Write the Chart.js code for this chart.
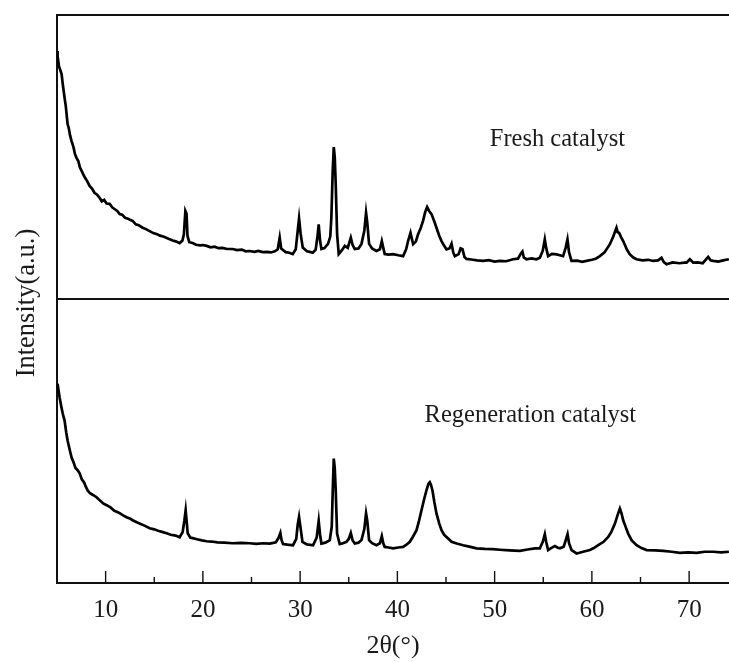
<!DOCTYPE html>
<html>
<head>
<meta charset="utf-8">
<title>XRD patterns</title>
<script src="https://cdn.jsdelivr.net/npm/chart.js@4.4.1/dist/chart.umd.min.js"></script>
<style>
  html, body { margin: 0; padding: 0; background: #fff; }
  #wrap { width: 729px; height: 662px; }
</style>
</head>
<body>
<div id="wrap"><canvas id="xrdChart" width="729" height="662"></canvas></div>
<script>
// 2theta ticks
const xTicks = [10, 20, 30, 40, 50, 60, 70];
const xMinorTicks = [15, 25, 35, 45, 55, 65];
const seriesNames = ["Fresh catalyst", "Regeneration catalyst"];

// fresh catalyst (upper panel, intensity in % of panel height)
const freshTheta = [5.0, 5.06, 5.2, 5.35, 5.47, 5.6, 5.78, 5.9, 6.09, 6.2, 6.35, 6.5, 6.7, 6.85, 7.02, 7.2, 7.35, 7.53, 7.7, 7.9,
  8.1, 8.35, 8.6, 8.85, 9.1, 9.38, 9.6, 9.85, 10.1, 10.41, 10.7, 10.95, 11.2, 11.44, 11.7, 12.0, 12.3, 12.5, 12.78, 13.1,
  13.4, 13.8, 14.1, 14.53, 14.9, 15.3, 15.6, 16.0, 16.28, 16.6, 16.9, 17.2, 17.61, 17.9, 18.05, 18.2, 18.32, 18.42, 18.6, 18.95,
  19.3, 19.7, 20.0, 20.39, 20.8, 21.2, 21.6, 22.0, 22.5, 23.07, 23.5, 24.0, 24.4, 24.81, 25.3, 25.7, 26.15, 26.6, 27.0, 27.4,
  27.7, 27.9, 28.05, 28.52, 28.9, 29.24, 29.55, 29.75, 29.89, 30.05, 30.27, 30.7, 31.0, 31.3, 31.6, 31.8, 31.91, 32.05, 32.19, 32.5,
  32.87, 33.1, 33.21, 33.35, 33.46, 33.56, 33.66, 33.8, 33.97, 34.3, 34.59, 34.9, 35.21, 35.4, 35.62, 36.0, 36.31, 36.6, 36.78, 36.9,
  37.09, 37.4, 37.85, 38.2, 38.4, 38.55, 38.7, 39.1, 39.56, 40.1, 40.59, 40.9, 41.1, 41.35, 41.62, 41.9, 42.13, 42.4, 42.64, 42.85,
  43.06, 43.3, 43.51, 43.8, 44.02, 44.3, 44.54, 44.8, 45.05, 45.35, 45.57, 45.75, 45.91, 46.3, 46.5, 46.7, 46.9, 47.11, 47.6, 48.2,
  48.82, 49.4, 50.0, 50.53, 51.2, 51.89, 52.4, 52.7, 52.86, 53.0, 53.27, 53.8, 54.3, 54.65, 54.95, 55.16, 55.3, 55.5, 55.9, 56.37,
  56.7, 57.04, 57.3, 57.49, 57.65, 57.9, 58.5, 59.0, 59.45, 60.0, 60.4, 60.82, 61.3, 61.85, 62.2, 62.53, 62.65, 62.8, 63.0, 63.22,
  63.6, 63.91, 64.3, 64.59, 65.2, 65.8, 66.3, 66.8, 67.16, 67.4, 67.68, 68.3, 69.0, 69.5, 69.74, 70.08, 70.42, 70.9, 71.4, 71.96,
  72.2, 72.48, 73.0, 73.5, 74.09];
const freshIntensity = [87.3, 85.6, 82.0, 80.5, 79.2, 75.5, 70.8, 68.0, 61.6, 60.3, 57.5, 55.6, 53.4, 51.0, 49.6, 48.5, 46.4, 45.1, 43.9, 42.6,
  41.5, 39.8, 38.9, 37.4, 36.8, 35.6, 34.4, 34.9, 33.6, 33.5, 32.2, 31.6, 31.0, 29.9, 29.7, 28.6, 28.3, 27.9, 27.5, 26.3,
  26.0, 25.1, 24.7, 23.9, 23.2, 22.8, 22.3, 21.9, 21.5, 21.0, 20.6, 20.3, 19.7, 20.6, 22.9, 31.0, 30.0, 22.2, 20.0, 19.7,
  19.1, 18.9, 19.0, 18.7, 18.2, 18.4, 17.9, 18.0, 17.6, 17.6, 17.2, 17.4, 16.8, 16.9, 16.6, 16.9, 16.5, 16.6, 16.4, 16.8,
  17.5, 21.6, 17.8, 16.5, 16.3, 15.8, 17.5, 24.0, 28.4, 23.0, 18.1, 16.8, 16.6, 16.3, 17.4, 22.5, 26.3, 20.5, 17.6, 17.9,
  19.4, 22.0, 28.6, 45.0, 53.5, 50.0, 40.5, 22.9, 15.8, 17.2, 18.7, 18.0, 21.6, 19.0, 17.6, 17.8, 19.4, 24.0, 30.4, 27.0,
  19.4, 17.8, 16.9, 17.5, 20.4, 18.0, 15.8, 15.6, 15.8, 15.4, 15.1, 17.5, 20.4, 23.3, 19.3, 20.2, 22.8, 25.0, 27.5, 30.5,
  32.4, 30.8, 29.9, 27.3, 25.1, 22.3, 20.4, 18.8, 17.5, 17.8, 19.5, 16.3, 15.1, 15.8, 17.8, 17.5, 14.8, 14.1, 13.9, 13.6,
  13.4, 13.7, 13.2, 13.4, 13.3, 14.0, 14.2, 16.0, 16.7, 14.6, 14.0, 14.3, 14.0, 14.5, 17.0, 21.0, 18.0, 15.1, 15.9, 15.7,
  15.4, 15.1, 18.0, 21.0, 16.5, 13.4, 13.5, 13.1, 13.4, 13.8, 14.2, 15.1, 16.4, 19.3, 22.0, 25.1, 23.5, 23.3, 21.8, 20.4,
  17.4, 15.7, 14.5, 14.0, 13.6, 13.8, 13.4, 13.6, 14.5, 13.0, 12.2, 12.9, 12.6, 12.8, 12.8, 14.0, 12.8, 12.9, 12.6, 14.8,
  13.6, 13.4, 13.2, 13.6, 14.0];

// regenerated catalyst (lower panel)
const regenTheta = [5.06, 5.15, 5.27, 5.45, 5.6, 5.78, 5.95, 6.09, 6.3, 6.5, 6.7, 6.9, 7.1, 7.33, 7.55, 7.8, 7.95, 8.15, 8.4, 8.7,
  9.07, 9.4, 9.75, 10.1, 10.5, 10.9, 11.2, 11.44, 11.8, 12.2, 12.5, 12.78, 13.2, 13.6, 14.0, 14.53, 15.0, 15.4, 15.8, 16.28,
  16.7, 17.2, 17.61, 17.92, 18.1, 18.23, 18.35, 18.44, 18.7, 18.95, 19.4, 19.9, 20.39, 20.9, 21.5, 22.2, 23.07, 23.9, 24.81, 25.5,
  26.2, 26.87, 27.5, 27.8, 27.97, 28.1, 28.24, 28.7, 29.27, 29.6, 29.75, 29.89, 30.02, 30.24, 30.7, 31.33, 31.7, 31.91, 32.05, 32.19,
  32.6, 33.05, 33.25, 33.35, 33.46, 33.56, 33.66, 33.8, 34.07, 34.4, 34.76, 35.0, 35.21, 35.4, 35.62, 36.0, 36.31, 36.6, 36.78, 36.9,
  37.09, 37.4, 37.85, 38.2, 38.4, 38.55, 38.7, 39.1, 39.56, 40.1, 40.59, 40.9, 41.28, 41.6, 41.97, 42.2, 42.48, 42.75, 42.99, 43.2,
  43.33, 43.45, 43.61, 43.8, 44.02, 44.3, 44.54, 44.8, 45.05, 45.3, 45.57, 46.1, 46.76, 47.4, 48.14, 49.0, 49.8, 50.53, 51.5, 52.59,
  53.4, 54.14, 54.65, 54.95, 55.16, 55.3, 55.5, 55.8, 56.19, 56.5, 56.71, 57.1, 57.35, 57.5, 57.65, 57.91, 58.43, 59.1, 59.79, 60.2,
  60.65, 61.2, 61.68, 62.0, 62.37, 62.65, 62.88, 63.05, 63.22, 63.5, 63.73, 64.1, 64.6, 65.1, 65.63, 66.5, 67.34, 68.2, 69.05, 69.9,
  70.77, 71.6, 72.48, 73.3, 74.09];
const regenIntensity = [70.2, 68.0, 65.3, 62.0, 59.5, 57.2, 53.0, 50.2, 47.0, 44.2, 42.5, 40.5, 39.8, 38.6, 36.5, 35.3, 34.0, 32.6, 31.6, 31.0,
  30.2, 29.1, 28.0, 27.4, 26.6, 25.4, 25.0, 24.6, 23.8, 23.1, 22.7, 22.1, 21.4, 20.8, 20.2, 19.3, 18.9, 18.4, 18.0, 17.5,
  17.0, 16.7, 16.1, 17.9, 22.0, 25.6, 21.0, 17.5, 16.0, 15.8, 15.4, 15.0, 14.7, 14.6, 14.3, 14.2, 14.0, 14.1, 14.0, 13.8,
  14.0, 13.9, 14.3, 16.0, 17.6, 15.0, 13.7, 13.5, 13.3, 15.5, 20.5, 23.3, 20.0, 14.5, 13.6, 13.3, 16.0, 21.9, 17.0, 13.9,
  14.2, 15.1, 19.8, 32.0, 43.8, 40.5, 32.6, 17.4, 13.7, 14.0, 14.5, 15.5, 17.6, 15.0, 13.9, 14.2, 15.1, 19.0, 24.5, 22.0,
  15.1, 14.0, 13.3, 14.0, 16.5, 14.0, 12.7, 12.5, 12.2, 12.5, 12.7, 13.4, 14.5, 16.3, 18.6, 21.5, 25.6, 29.5, 32.6, 35.0,
  35.5, 34.6, 32.6, 28.5, 24.5, 21.0, 18.6, 17.0, 16.2, 15.4, 14.5, 13.9, 13.3, 12.8, 12.2, 12.0, 11.9, 11.7, 11.5, 11.3,
  11.8, 12.2, 12.2, 14.5, 17.2, 14.5, 11.6, 12.3, 13.0, 12.4, 12.2, 12.8, 15.5, 17.2, 14.0, 11.6, 10.4, 11.0, 11.6, 12.3,
  13.3, 14.5, 16.2, 18.0, 20.9, 24.0, 26.2, 24.5, 22.1, 19.5, 17.4, 15.0, 13.3, 12.3, 11.6, 11.5, 11.3, 11.0, 10.6, 10.8,
  10.6, 11.0, 11.0, 10.8, 11.0];

function toPoints(xs, ys) {
  return xs.map((x, i) => ({ x: x, y: ys[i] }));
}

const serif = "'Liberation Serif', 'Times New Roman', serif";
const inkColor = "#1a1a1a";

// frame, inward ticks, panel labels, y title
const decorPlugin = {
  id: "decor",
  afterDraw(chart) {
    const { ctx, chartArea } = chart;
    const xs = chart.scales.x;
    const yTop = chart.scales.yTop;
    const yBot = chart.scales.yBot;
    ctx.save();
    ctx.strokeStyle = "#111";
    ctx.lineWidth = 2;
    ctx.beginPath();
    ctx.moveTo(chartArea.left - 1, chartArea.top);
    ctx.lineTo(chartArea.right, chartArea.top);
    ctx.moveTo(chartArea.left, yTop.bottom);
    ctx.lineTo(chartArea.right, yTop.bottom);
    ctx.stroke();

    ctx.lineWidth = 1.4;
    ctx.beginPath();
    xTicks.forEach(v => {
      const px = xs.getPixelForValue(v);
      ctx.moveTo(px, chartArea.bottom);
      ctx.lineTo(px, chartArea.bottom - 12);
    });
    xMinorTicks.forEach(v => {
      const px = xs.getPixelForValue(v);
      ctx.moveTo(px, chartArea.bottom);
      ctx.lineTo(px, chartArea.bottom - 6);
    });
    ctx.stroke();

    ctx.fillStyle = inkColor;
    ctx.font = "24.5px " + serif;
    ctx.textBaseline = "alphabetic";
    ctx.textAlign = "left";
    ctx.fillText(seriesNames[0], xs.getPixelForValue(49.5), yTop.getPixelForValue(53.9));
    ctx.fillText(seriesNames[1], xs.getPixelForValue(42.8), yBot.getPixelForValue(56.7));

    ctx.font = "26.5px " + serif;
    ctx.translate(27, (chartArea.top + chartArea.bottom) / 2 + 4);
    ctx.rotate(-Math.PI / 2);
    ctx.textAlign = "center";
    ctx.textBaseline = "middle";
    ctx.fillText("Intensity(a.u.)", 0, 0);
    ctx.restore();
  }
};

const panelAxis = {
  type: "linear",
  position: "left",
  stack: "xrd",
  stackWeight: 1,
  min: 0,
  max: 100,
  ticks: { display: false },
  grid: { display: false, drawTicks: false },
  border: { display: true, color: "#111", width: 2 },
  afterFit: s => { s.width = 57; }
};

new Chart(document.getElementById("xrdChart"), {
  type: "line",
  data: {
    datasets: [
      {
        label: seriesNames[1],
        data: toPoints(regenTheta, regenIntensity),
        yAxisID: "yBot",
        borderColor: "#000",
        borderWidth: 2.7,
        pointRadius: 0,
        tension: 0,
        fill: false
      },
      {
        label: seriesNames[0],
        data: toPoints(freshTheta, freshIntensity),
        yAxisID: "yTop",
        borderColor: "#000",
        borderWidth: 2.7,
        pointRadius: 0,
        tension: 0,
        fill: false
      }
    ]
  },
  options: {
    responsive: false,
    animation: false,
    layout: { padding: { top: 15, right: 0, left: 0, bottom: 0 } },
    plugins: {
      legend: { display: false },
      tooltip: { enabled: false }
    },
    scales: {
      x: {
        type: "linear",
        min: 5,
        max: 74.1,
        afterBuildTicks: s => { s.ticks = xTicks.map(v => ({ value: v })); },
        afterFit: s => { s.height = 79; },
        grid: { display: true, drawOnChartArea: false, drawTicks: false },
        border: { display: true, color: "#111", width: 2 },
        ticks: {
          color: inkColor,
          padding: 12,
          maxRotation: 0,
          font: { family: serif, size: 25 }
        },
        title: {
          display: true,
          text: "2θ(°)",
          color: inkColor,
          padding: { top: 0, bottom: 0 },
          font: { family: serif, size: 26 }
        }
      },
      yBot: Object.assign({}, panelAxis),
      yTop: Object.assign({}, panelAxis)
    }
  },
  plugins: [decorPlugin]
});
</script>
</body>
</html>
